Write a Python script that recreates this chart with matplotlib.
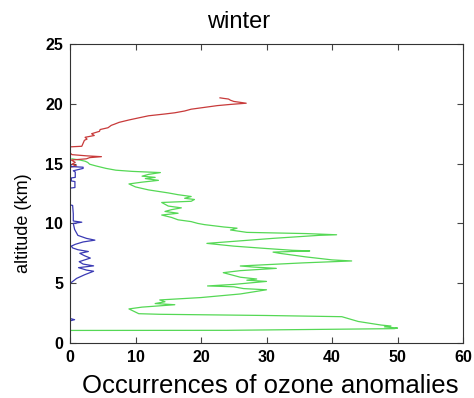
import numpy as np
import matplotlib
matplotlib.use("Agg")
import matplotlib.pyplot as plt

plt.rcParams['font.family'] = ['Liberation Sans', 'DejaVu Sans']

# Green profile (lower troposphere)
green_alt = [1.05, 1.06, 1.2, 1.25, 1.35, 1.42, 1.5, 1.8, 2.2, 2.3, 2.4, 2.45, 2.85, 3.0, 3.2, 3.3,
             3.45, 3.6, 3.8, 4.1, 4.45, 4.55, 4.7, 4.77, 4.9, 5.0, 5.15, 5.25, 5.35, 5.5, 5.88, 6.05,
             6.24, 6.35, 6.44, 6.55, 6.7, 6.86, 6.95, 7.2, 7.5, 7.6, 7.7, 7.75, 7.9, 8.1, 8.33, 8.5,
             8.75, 9.0, 9.05, 9.15, 9.25, 9.45, 9.6, 9.7, 9.9, 10.0, 10.15, 10.3, 10.5, 10.7, 10.85,
             11.0, 11.15, 11.3, 11.45, 11.75, 11.85, 12.0, 12.1, 12.25, 12.4, 12.55, 12.8, 13.05,
             13.3, 13.45, 13.6, 13.75, 13.85, 13.95, 14.1, 14.25, 14.35, 14.45, 14.6, 14.8, 14.95,
             15.1, 15.2, 15.3, 15.4]
green_x = [0, 24, 49.5, 50, 48, 49, 47.5, 44, 41.5, 30, 13.7, 10.5, 9, 11, 16, 13,
           14.5, 13.7, 20, 26, 30, 26.5, 25, 21, 25, 27, 30, 27, 28.5, 26, 23.4, 26,
           31.5, 28, 26, 30, 35.6, 43, 40, 36, 32, 31, 36.6, 34, 30, 25, 20.9, 25,
           31, 38, 40.7, 36, 27, 24.5, 25.5, 23.5, 20.5, 19.5, 18.5, 16.5, 15.5, 14, 16.5,
           14.5, 15.5, 17, 15, 14, 18.5, 19, 17.5, 18.5, 16.5, 15, 12, 10,
           9, 11, 13.5, 11.5, 13, 11, 12, 13.8, 9.5, 7, 5.5, 4, 3,
           2.7, 2.3, 1.5, 0.3]

# Red profile (upper troposphere / lower stratosphere)
red_alt = [14.7, 14.8, 14.95, 15.1, 15.3, 15.4, 15.5, 15.58, 15.65, 15.75, 15.9, 16.4, 16.45, 16.7,
           16.95, 17.05, 17.2, 17.35, 17.5, 17.7, 17.85, 18.0, 18.2, 18.3, 18.45, 18.65, 18.85,
           19.0, 19.15, 19.25, 19.4, 19.55, 19.7, 19.85, 19.95, 20.05, 20.2, 20.3, 20.4, 20.45, 20.5]
red_x = [0, 1, 0.3, 0.8, 0.2, 2.5, 3, 4.8, 2.5, 0.3, 0, 0, 1.8, 2,
         2.2, 2.6, 2.3, 3.7, 3.3, 4.5, 4.6, 5.8, 6.3, 6.8, 7.5, 9, 10.7,
         12, 14.5, 16, 17.5, 18.5, 20.5, 22.5, 24.5, 26.9, 25, 24.5, 24.2, 23.5, 22.9]

# Blue profile (NaN separates segments)
blue_alt = [1.85, 1.95, 2.05, np.nan,
            5.0, 5.1, 5.4, 5.7, 6.0, 6.1, 6.3, 6.45, 6.6, 6.8, 7.1, 7.3, 7.5, 7.65, 7.8, 7.95,
            8.1, 8.25, 8.45, 8.6, 8.75, 9.0, 9.5, 10.0, 10.1, 10.2, 10.8, 11.5, 11.55, np.nan,
            12.95, 13.0, 13.5, 13.55, 13.8, 13.85, 14.3, 14.4, 14.6, 14.7, 14.75, 15.0]
blue_x = [0, 0.7, 0, np.nan,
          0, 0.3, 1, 2.2, 3.6, 2.5, 1.3, 3.6, 2, 1.4, 3.1, 2.2, 1.5, 2.8, 1.2, 0.4,
          0.2, 0.8, 2, 3.8, 2.5, 1.2, 0.7, 0.5, 1.8, 0.5, 0.5, 0.4, 0, np.nan,
          0, 0.75, 0.75, 0.2, 0.2, 0.8, 0.8, 0.5, 2, 2, 0.2, 0]

x_ticks = [0, 10, 20, 30, 40, 50, 60]
y_ticks = [0, 5, 10, 15, 20, 25]

fig = plt.figure(figsize=(4.74, 3.98), dpi=100)
ax = fig.add_axes([0.1477, 0.1382, 0.8291, 0.7512])

ax.plot(green_x, green_alt, color='#55d855', lw=0.9)
ax.plot(red_x, red_alt, color='#c83a3a', lw=0.9)
ax.plot(blue_x, blue_alt, color='#3a3ab4', lw=0.9)

ax.set_xlim(0, 60)
ax.set_ylim(0, 25)
ax.set_xticks(x_ticks)
ax.set_yticks(y_ticks)
ax.tick_params(direction='in', top=True, right=True, length=4, width=0.8,
               labelsize=11.5, color='#444444')
ax.tick_params(axis='x', pad=5)
ax.tick_params(axis='y', pad=5)
for lab in ax.get_xticklabels() + ax.get_yticklabels():
    lab.set_fontweight('bold')
for s in ax.spines.values():
    s.set_color('#333333')
    s.set_linewidth(0.8)

fig.text(0.504, 0.9296, 'winter', fontsize=17, ha='center', va='baseline')
fig.text(0.5696, 0.0126, 'Occurrences of ozone anomalies', fontsize=18.5,
         ha='center', va='baseline')
fig.text(0.0506, 0.4397, 'altitude (km)', fontsize=13, rotation=90,
         ha='center', va='center')

fig.savefig('out.png', dpi=100)
